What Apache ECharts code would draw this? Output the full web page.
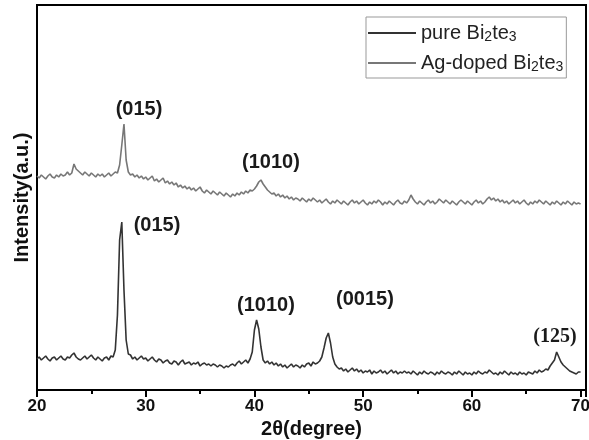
<!DOCTYPE html>
<html>
<head>
<meta charset="utf-8">
<script src="https://cdn.jsdelivr.net/npm/echarts@6/dist/echarts.min.js"></script>
<style>
  html, body { margin: 0; padding: 0; background: #fff; }
  #chart { width: 589px; height: 440px; }
</style>
</head>
<body>
<div id="chart"></div>
<script>
// 2theta sampling: 20.0 .. 70.0, step 0.2
const thetaStart = 20;
const thetaStep = 0.2;

// pure Bi2te3 (lower trace), intensity in a.u.
const pureValues = [
  31, 33, 30, 32, 34, 31, 29, 32, 33, 30,
  32, 34, 31, 30, 33, 32, 35, 37, 33, 31,
  30, 32, 34, 31, 33, 35, 32, 30, 33, 31,
  29, 32, 33, 30, 34, 33, 40, 75, 150, 168,
  100, 50, 36, 35, 31, 33, 30, 32, 34, 31,
  32, 29, 31, 33, 30, 28, 31, 30, 27, 29,
  30, 27, 26, 29, 28, 25, 28, 30, 26, 27,
  28, 25, 27, 26, 28, 24, 26, 27, 25, 26,
  24, 26, 25, 23, 25, 24, 22, 24, 23, 25,
  26, 24, 27, 29, 26, 28, 30, 27, 31, 38,
  60, 70, 61, 43, 30, 27, 29, 26, 28, 25,
  27, 24, 26, 23, 25, 22, 24, 26, 23, 25,
  24, 22, 25, 23, 26, 27, 24, 28, 26, 27,
  29, 33, 42, 52, 57, 47, 33, 26, 23, 21,
  22, 19, 21, 18, 20, 22, 19, 21, 18, 20,
  17, 19, 18, 20, 16, 19, 17, 18, 20, 17,
  19, 16, 18, 20, 17, 19, 16, 18, 17, 19,
  17, 18, 16, 19, 17, 15, 18, 16, 19, 17,
  16, 18, 17, 15, 18, 16, 19, 17, 16, 18,
  17, 15, 18, 16, 19, 17, 15, 18, 16, 17,
  15, 18, 16, 19, 17, 16, 18, 17, 20, 18,
  16, 17, 15, 18, 16, 19, 17, 15, 18, 16,
  17, 15, 18, 16, 17, 15, 18, 17, 16, 19,
  17, 20, 18, 19, 21, 20, 24, 27, 30, 38,
  33, 28, 25, 23, 21, 19, 18, 17, 16, 18,
  18
];

// Ag-doped Bi2te3 (upper trace)
const dopedValues = [
  214, 212, 215, 213, 211, 214, 216, 213, 212, 215,
  213, 216, 214, 215, 218, 215, 217, 226, 221, 219,
  217, 215, 218, 216, 214, 217, 215, 213, 216, 214,
  216, 213, 215, 217, 214, 216, 218, 217, 225, 245,
  266, 230, 218, 215, 216, 213, 215, 212, 214, 211,
  213, 210, 212, 214, 209, 211, 208, 210, 212, 207,
  209, 206, 208, 205, 207, 203, 205, 202, 204, 201,
  203, 200, 202, 199, 201, 203, 199, 197, 200, 198,
  196, 199, 197, 195, 198, 196, 194, 197, 195, 193,
  196, 194, 197, 195, 198, 196, 199, 197, 200, 199,
  201, 204, 208, 210, 206, 203, 200, 198, 196, 197,
  194, 196, 193, 195, 192, 194, 191, 193, 190, 192,
  191, 189, 192, 190, 188, 191, 189, 192, 190, 188,
  190, 187, 189, 191, 188, 186, 189, 187, 190, 188,
  186, 189, 187, 185, 188, 190, 187, 189, 186, 188,
  190, 187, 185, 188, 186, 189, 187, 190, 188, 185,
  188, 186, 189, 187, 185, 188, 190, 187, 186, 189,
  187, 190, 195, 191, 188, 186, 189, 187, 185, 188,
  190, 187, 189, 186, 188, 191, 189, 187, 190, 188,
  186, 189, 187, 185, 188, 190, 188, 186, 189, 187,
  185, 188, 190, 187, 189, 186, 188, 191, 193, 190,
  192, 189, 191, 188, 190, 187, 189, 186, 188, 190,
  187, 189, 186, 188, 190, 187, 185, 188, 186, 189,
  187, 190, 188, 186, 189, 187, 185, 188, 186, 189,
  187, 185, 188, 186, 189, 187, 185, 188, 186, 187,
  186
];

// peak labels: [text, 2theta, intensity] (label centre)
const pureLabels = [
  ['(015)', 31.04, 165],
  ['(1010)', 41.06, 85],
  ['(0015)', 50.17, 91]
];
const pureSerifLabels = [
  ['(125)', 67.65, 53]
];
const dopedLabels = [
  ['(015)', 29.38, 281],
  ['(1010)', 41.52, 228]
];

const xTicks = [20, 30, 40, 50, 60, 70];

const toPairs = (vals) => vals.map((v, i) => [+(thetaStart + i * thetaStep).toFixed(1), v]);

const labelPoint = (l, font) => ({
  name: l[0],
  coord: [l[1], l[2]],
  symbol: 'circle',
  symbolSize: 0,
  label: {
    show: true,
    position: 'inside',
    formatter: l[0],
    color: '#1a1a1a',
    fontSize: 20,
    fontWeight: 'bold',
    fontFamily: font
  }
});

const sansFont = '"Liberation Sans", Arial, sans-serif';
const serifFont = '"Liberation Serif", "Times New Roman", serif';

const chart = echarts.init(document.getElementById('chart'));

const option = {
  backgroundColor: '#fff',
  animation: false,
  textStyle: { fontFamily: sansFont },
  grid: {
    left: 37, right: 3, top: 5, bottom: 50,
    outerBoundsMode: 'none',
    containLabel: false,
    show: true,
    borderColor: '#000',
    borderWidth: 2
  },
  legend: {
    orient: 'vertical',
    left: 366,
    top: 17,
    padding: [5, 3, 4, 2],
    itemGap: 8,
    itemWidth: 48,
    itemHeight: 2,
    icon: 'rect',
    borderColor: '#999',
    borderWidth: 1,
    formatter: (name) => name.replace('₂', '{s|2}').replace('₃', '{s|3}'),
    textStyle: {
      color: '#222',
      fontSize: 20,
      fontFamily: sansFont,
      lineHeight: 22,
      rich: {
        s: { fontSize: 14, lineHeight: 14, verticalAlign: 'bottom', color: '#222', fontFamily: sansFont }
      }
    }
  },
  xAxis: {
    type: 'value',
    min: 20,
    max: 70.5,
    interval: 10,
    name: '2θ(degree)',
    nameLocation: 'middle',
    nameGap: 29,
    nameTextStyle: { fontSize: 20, fontWeight: 'bold', color: '#111' },
    axisLine: { show: true, lineStyle: { color: '#000', width: 2 } },
    axisTick: { show: true, inside: false, length: 7, lineStyle: { color: '#000', width: 2 } },
    minorTick: { show: true, splitNumber: 2, length: 4, lineStyle: { color: '#000', width: 2 } },
    axisLabel: {
      color: '#111', fontSize: 17, fontWeight: 'bold', margin: 8,
      showMaxLabel: false,
      formatter: (v) => (xTicks.includes(v) ? String(v) : '')
    },
    splitLine: { show: false }
  },
  yAxis: {
    type: 'value',
    min: 0,
    max: 385,
    name: 'Intensity(a.u.)',
    nameLocation: 'middle',
    nameGap: 5,
    nameTextStyle: { fontSize: 20, fontWeight: 'bold', color: '#111' },
    axisLine: { show: true, lineStyle: { color: '#000', width: 2 } },
    axisTick: { show: false },
    axisLabel: { show: false },
    splitLine: { show: false }
  },
  series: [
    {
      name: 'pure Bi₂te₃',
      type: 'line',
      data: toPairs(pureValues),
      showSymbol: false,
      color: '#333',
      lineStyle: { color: '#333', width: 1.6 },
      markPoint: {
        silent: true,
        data: pureLabels.map((l) => labelPoint(l, sansFont))
          .concat(pureSerifLabels.map((l) => labelPoint(l, serifFont)))
      }
    },
    {
      name: 'Ag-doped Bi₂te₃',
      type: 'line',
      data: toPairs(dopedValues),
      showSymbol: false,
      color: '#777',
      lineStyle: { color: '#777', width: 1.6 },
      markPoint: {
        silent: true,
        data: dopedLabels.map((l) => labelPoint(l, sansFont))
      }
    }
  ]
};

chart.setOption(option);
</script>
</body>
</html>
